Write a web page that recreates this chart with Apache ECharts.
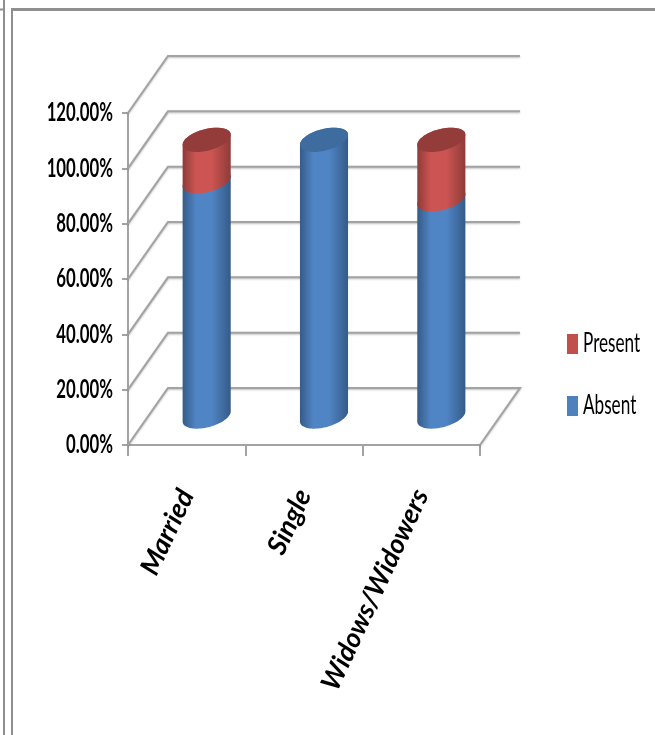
<!DOCTYPE html>
<html>
<head>
<meta charset="utf-8">
<style>html,body{margin:0;padding:0;background:#fff}#chart{width:655px;height:735px}</style>
<script src="https://cdn.jsdelivr.net/npm/echarts@6/dist/echarts.min.js"></script>
</head>
<body>
<div id="chart"></div>
<script>
// Share of respondents by marital status, in percent
const categories = ['Married', 'Single', 'Widows/Widowers'];
const absent = [85, 100, 78.5];
const present = [15, 0, 21.5];
const valueTicks = [0, 20, 40, 60, 80, 100, 120];

const FONT = 'Lato, "Open Sans", sans-serif';
const GRID_COLOR = '#a3a3a3';
const FRAME_COLOR = '#8f8f8f';

// Oblique projection of the chart box: how far the back wall is shifted
const DEPTH_X = 40;
const DEPTH_Y = -57;

const gradient = (edge, mid) => new echarts.graphic.LinearGradient(0, 0, 1, 0, [
  { offset: 0, color: edge },
  { offset: 0.28, color: mid },
  { offset: 0.6, color: mid },
  { offset: 1, color: edge }
]);

// Point on the tilted elliptical section of a cylinder
function rimPoint(cx, cy, a, t) {
  const b = a * 0.46, k = a * 0.21;
  return [cx + a * Math.cos(t), cy + b * Math.sin(t) - k * Math.cos(t)];
}
function arc(cx, cy, a, from, to) {
  const pts = [];
  for (let i = 0; i <= 40; i++) pts.push(rimPoint(cx, cy, a, from + (to - from) * i / 40));
  return pts;
}

function cylinderSeries(name, values, bases, colors, capColor) {
  return {
    name,
    type: 'custom',
    z: 3,
    itemStyle: { color: colors.flat },
    data: values.map((v, i) => [i, bases[i], bases[i] + v]),
    renderItem(params, api) {
      const idx = api.value(0), low = api.value(1), high = api.value(2);
      if (high <= low) return { type: 'group', children: [] };
      const a = api.size([1, 0])[0] * 0.205;
      const bottom = api.coord([idx, low]);
      const top = api.coord([idx, high]);
      const cx = bottom[0] + DEPTH_X / 2;
      const y0 = bottom[1] + DEPTH_Y / 2;
      const y1 = top[1] + DEPTH_Y / 2;
      const body = arc(cx, y0, a, 0, Math.PI).concat(arc(cx, y1, a, Math.PI, 2 * Math.PI));
      const children = [{
        type: 'polygon',
        shape: { points: body },
        style: { fill: gradient(colors.edge, colors.mid) }
      }];
      if (capColor[idx]) {
        children.push({
          type: 'polygon',
          shape: { points: arc(cx, y1, a, 0, 2 * Math.PI) },
          style: { fill: capColor[idx] }
        });
      }
      return { type: 'group', children };
    }
  };
}

const BLUE = { flat: '#4f81bd', edge: '#355b88', mid: '#5085c5' };
const RED = { flat: '#c0504d', edge: '#8f3b38', mid: '#cc5553' };
const blueCaps = present.map(v => (v > 0 ? null : '#3f6c9f'));
const redCaps = present.map(v => (v > 0 ? '#933c39' : null));

const option = {
  animation: false,
  backgroundColor: '#fff',
  grid: { left: 128, right: 175, top: 113, bottom: 290 },
  legend: {
    data: ['Present', 'Absent'],
    orient: 'vertical',
    left: 567,
    top: 334,
    padding: 0,
    itemWidth: 11,
    itemHeight: 20,
    itemGap: 42,
    icon: 'rect',
    formatter: () => ''
  },
  xAxis: {
    type: 'category',
    data: categories,
    axisLine: { lineStyle: { color: GRID_COLOR, width: 2 } },
    axisTick: { show: true, interval: 0, length: 11, lineStyle: { color: GRID_COLOR, width: 2 } },
    axisLabel: { show: false }
  },
  yAxis: {
    type: 'value',
    min: 0,
    max: 120,
    interval: 20,
    splitLine: { show: false },
    axisLine: { show: true, lineStyle: { color: GRID_COLOR, width: 2 } },
    axisTick: { show: true, length: 6, lineStyle: { color: GRID_COLOR, width: 2 } },
    axisLabel: { show: false }
  },
  series: [
    {
      // Side and back wall rules, plus the right edge of the floor
      name: 'walls',
      type: 'custom',
      z: 1,
      silent: true,
      data: valueTicks.map(v => [0, v]),
      renderItem(params, api) {
        const v = api.value(1);
        const box = params.coordSys;
        const y = api.coord([0, v])[1];
        const x = box.x;
        const pts = [[x, y], [x + DEPTH_X, y + DEPTH_Y], [x + box.width + DEPTH_X, y + DEPTH_Y]];
        if (v === 0) pts.push([x + box.width, y]);
        return {
          type: 'polyline',
          shape: { points: pts },
          style: {
            stroke: GRID_COLOR,
            lineWidth: 2,
            fill: null,
            shadowColor: 'rgba(0,0,0,0.25)',
            shadowBlur: 2,
            shadowOffsetY: 1
          }
        };
      }
    },
    cylinderSeries('Absent', absent, absent.map(() => 0), BLUE, blueCaps),
    cylinderSeries('Present', present, absent, RED, redCaps),
    {
      // Value labels, squeezed horizontally to a condensed face
      name: 'valueLabels',
      type: 'custom',
      z: 4,
      silent: true,
      data: valueTicks.map(v => [0, v]),
      renderItem(params, api) {
        const v = api.value(1);
        return {
          type: 'text',
          x: params.coordSys.x - 15,
          y: api.coord([0, v])[1],
          scaleX: 0.645,
          style: {
            text: v.toFixed(2) + '%',
            align: 'right',
            verticalAlign: 'middle',
            font: 'bold 26px ' + FONT,
            fill: '#000'
          }
        };
      }
    },
    {
      // Slanted category labels under the axis
      name: 'categoryLabels',
      type: 'custom',
      z: 4,
      silent: true,
      data: categories.map((c, i) => [i, 0]),
      renderItem(params, api) {
        const idx = api.value(0);
        const p = api.coord([idx, 0]);
        return {
          type: 'text',
          x: p[0],
          y: p[1] + 46,
          rotation: 65 * Math.PI / 180,
          style: {
            text: categories[idx],
            align: 'right',
            verticalAlign: 'middle',
            font: 'italic bold 27px ' + FONT,
            fill: '#000'
          }
        };
      }
    }
  ],
  graphic: [
    { type: 'line', silent: true, shape: { x1: 4, y1: 0, x2: 4, y2: 735 }, style: { stroke: FRAME_COLOR, lineWidth: 2 } },
    { type: 'line', silent: true, shape: { x1: 12, y1: 9, x2: 12, y2: 735 }, style: { stroke: FRAME_COLOR, lineWidth: 2 } },
    { type: 'line', silent: true, shape: { x1: 11, y1: 9.5, x2: 655, y2: 9.5 }, style: { stroke: FRAME_COLOR, lineWidth: 3 } },
    { type: 'line', silent: true, shape: { x1: 0, y1: 9.5, x2: 5, y2: 9.5 }, style: { stroke: FRAME_COLOR, lineWidth: 2 } },
    { type: 'text', silent: true, x: 583, y: 344, scaleX: 0.66, style: { text: 'Present', align: 'left', verticalAlign: 'middle', font: '26px ' + FONT, fill: '#000' } },
    { type: 'text', silent: true, x: 583, y: 406, scaleX: 0.66, style: { text: 'Absent', align: 'left', verticalAlign: 'middle', font: '26px ' + FONT, fill: '#000' } }
  ]
};

echarts.init(document.getElementById('chart'), null, { renderer: 'canvas' }).setOption(option);
</script>
</body>
</html>
